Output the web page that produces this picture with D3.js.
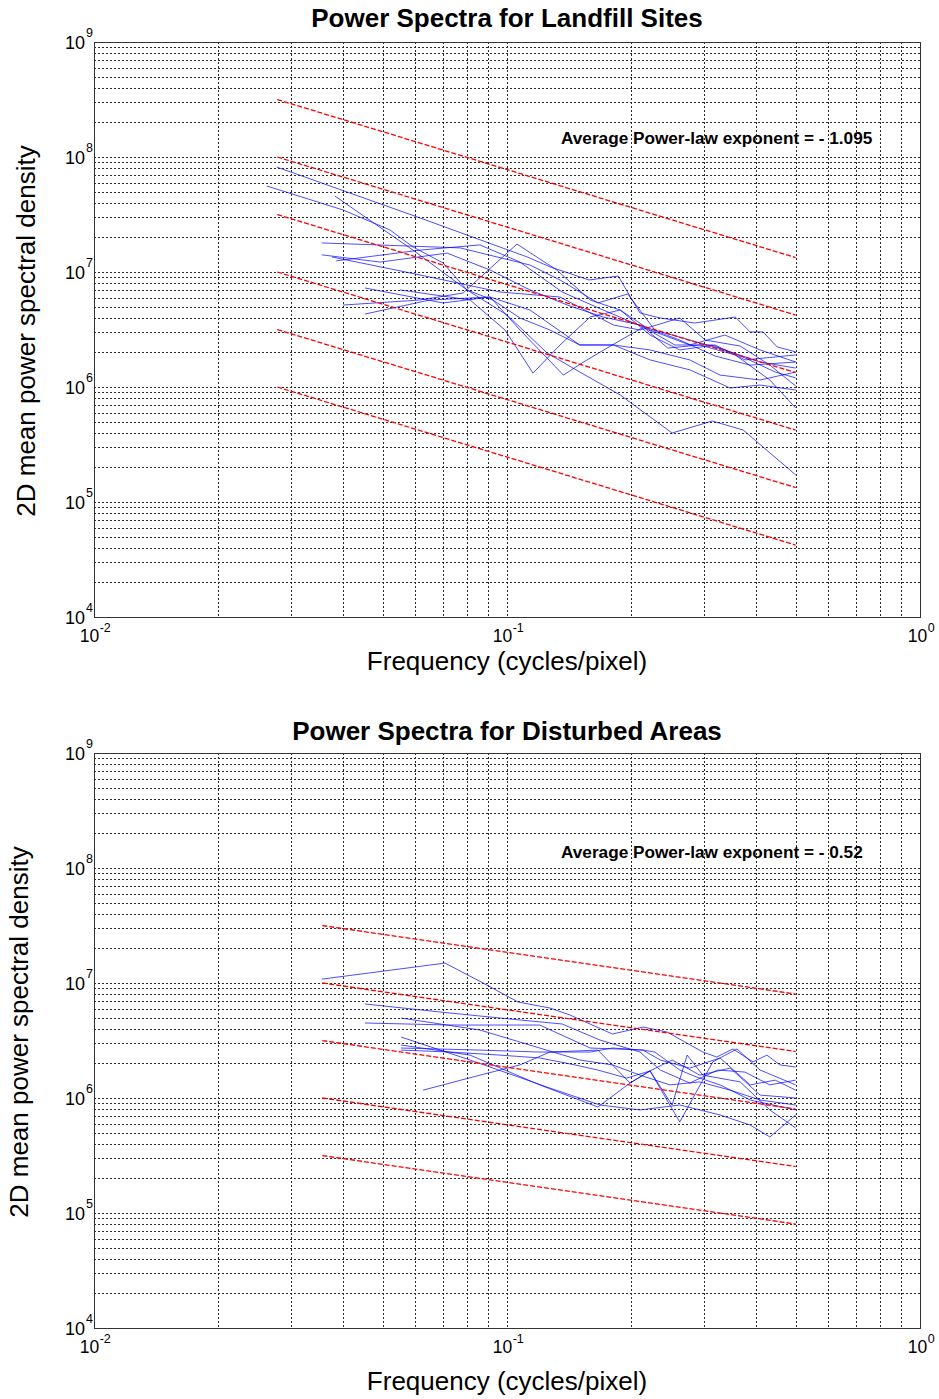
<!DOCTYPE html>
<html>
<head>
<meta charset="utf-8">
<script src="https://cdn.jsdelivr.net/npm/d3@7"></script>
<style>
  body { margin: 0; background: #fff; }
  svg { display: block; }
  text { font-family: "Liberation Sans", Arial, Helvetica, sans-serif; fill: #000; }
</style>
</head>
<body>
<svg id="chart" width="939" height="1399"></svg>
<script>
// ---- axis settings ----
const freqDomain = [0.01, 1];
const psdDomain = [1e4, 1e9];
const xTickExps = ["-2", "-1", "0"];
const xTickVals = [0.01, 0.1, 1];
const yTickExps = ["4", "5", "6", "7", "8", "9"];
const yTickVals = [1e4, 1e5, 1e6, 1e7, 1e8, 1e9];

// ---- landfill sites: radially averaged spectra, one row per site ----
const landfillFreq = [
  [0.0277, 0.0616, 0.112, 0.127, 0.158, 0.186, 0.199, 0.210, 0.235, 0.285, 0.357, 0.388, 0.417, 0.451, 0.5],
  [0.0262, 0.0401, 0.0521, 0.0592, 0.0700, 0.0800, 0.0925, 0.1075, 0.127, 0.150, 0.181, 0.222, 0.277, 0.328, 0.410, 0.5],
  [0.0383, 0.0592, 0.0800, 0.1000, 0.125, 0.150, 0.188, 0.251, 0.314, 0.373, 0.5],
  [0.0356, 0.0770, 0.1137, 0.1344, 0.166, 0.196, 0.228, 0.277, 0.337, 0.410, 0.5],
  [0.0356, 0.0493, 0.0716, 0.0910, 0.1137, 0.142, 0.171, 0.210, 0.262, 0.319, 0.388, 0.5],
  [0.0386, 0.0616, 0.0860, 0.1075, 0.136, 0.171, 0.214, 0.255, 0.314, 0.377, 0.446, 0.5],
  [0.0377, 0.0616, 0.0962, 0.1344, 0.181, 0.210, 0.262, 0.302, 0.367, 0.433, 0.5],
  [0.0453, 0.0700, 0.0910, 0.1137, 0.150, 0.181, 0.222, 0.277, 0.347, 0.410, 0.5],
  [0.0453, 0.0651, 0.0910, 0.1075, 0.137, 0.152, 0.178, 0.214, 0.245, 0.293, 0.357, 0.433, 0.5],
  [0.0401, 0.0616, 0.0783, 0.1057, 0.132, 0.159, 0.188, 0.222, 0.262, 0.319, 0.377, 0.5],
  [0.0551, 0.0814, 0.0989, 0.1156, 0.1344, 0.159, 0.188, 0.222, 0.277, 0.337, 0.410, 0.5]
];
const landfillPsd = [
  [8.18e7, 2.95e7, 1.35e7, 1.11e7, 8.52e6, 9.23e6, 6.06e6, 4.40e6, 3.98e6, 3.60e6, 4.06e6, 3.01e6, 3.01e6, 2.23e6, 2.02e6],
  [5.60e7, 3.46e7, 2.32e7, 1.65e7, 1.20e7, 6.98e6, 5.71e6, 3.98e6, 3.13e6, 2.32e6, 2.32e6, 2.10e6, 1.72e6, 1.27e6, 1.15e6, 1.35e6],
  [4.58e7, 1.55e7, 6.98e6, 4.23e6, 1.98e6, 1.35e6, 8.52e5, 3.98e5, 5.06e5, 4.23e5, 1.72e5],
  [1.79e7, 1.62e7, 1.15e7, 8.52e6, 5.38e6, 6.44e6, 3.13e6, 2.56e6, 2.10e6, 1.65e6, 1.46e6],
  [1.41e7, 1.22e7, 1.46e7, 1.04e7, 6.98e6, 5.06e6, 4.06e6, 3.46e6, 2.56e6, 1.86e6, 1.55e6, 1.65e6],
  [1.25e7, 1.55e7, 1.72e7, 1.22e7, 6.70e6, 4.67e6, 3.32e6, 2.32e6, 2.32e6, 1.79e6, 1.35e6, 1.20e6],
  [1.35e7, 9.42e6, 6.70e6, 6.06e6, 3.46e6, 3.13e6, 3.98e6, 2.56e6, 2.27e6, 1.55e6, 1.02e6],
  [7.26e6, 5.38e6, 6.06e6, 4.67e6, 2.32e6, 2.32e6, 1.72e6, 1.41e6, 9.80e5, 1.04e6, 9.42e5],
  [4.31e6, 5.71e6, 6.06e6, 3.13e6, 1.27e6, 1.62e6, 2.27e6, 3.32e6, 2.18e6, 2.32e6, 1.90e6, 1.15e6, 6.57e5],
  [5.16e6, 5.71e6, 6.57e6, 1.75e7, 1.04e7, 5.71e6, 4.67e6, 2.83e6, 2.10e6, 2.32e6, 1.72e6, 1.90e6],
  [6.98e6, 5.71e6, 3.13e6, 1.32e6, 2.32e6, 4.06e6, 4.67e6, 3.13e6, 2.32e6, 2.83e6, 2.10e6, 1.65e6]
];
const landfillExponent = -1.095;
const landfillFitRange = [1 / 36, 0.5];
const landfillFitLevels = [3.16e8, 1e8, 3.16e7, 1e7, 3.16e6, 1e6];

// ---- disturbed areas ----
const disturbedFreq = [
  [0.0356, 0.0708, 0.0875, 0.1063, 0.127, 0.142, 0.180, 0.2135, 0.244, 0.298, 0.322, 0.3525, 0.394, 0.426, 0.458, 0.5],
  [0.0453, 0.0728, 0.1075, 0.136, 0.168, 0.210, 0.235, 0.277, 0.324, 0.377, 0.433, 0.5],
  [0.0453, 0.0728, 0.120, 0.159, 0.183, 0.2135, 0.235, 0.277, 0.328, 0.388, 0.446, 0.5],
  [0.0554, 0.0860, 0.120, 0.150, 0.180, 0.210, 0.248, 0.293, 0.347, 0.410, 0.5],
  [0.0554, 0.0814, 0.127, 0.168, 0.210, 0.262, 0.328, 0.388, 0.433, 0.5],
  [0.0554, 0.0860, 0.120, 0.159, 0.180, 0.2135, 0.228, 0.262, 0.288, 0.328, 0.388, 0.5],
  [0.0554, 0.0728, 0.0962, 0.120, 0.146, 0.166, 0.195, 0.222, 0.251, 0.293, 0.347, 0.410, 0.5],
  [0.0626, 0.0860, 0.1075, 0.127, 0.166, 0.1986, 0.222, 0.251, 0.273, 0.298, 0.367, 0.433, 0.5],
  [0.0554, 0.0814, 0.120, 0.166, 0.1986, 0.222, 0.262, 0.315, 0.3605, 0.410, 0.5]
];
const disturbedPsd = [
  [1.08e7, 1.49e7, 1.00e7, 6.84e6, 6.06e6, 5.27e6, 3.60e6, 4.14e6, 3.75e6, 2.51e6, 2.27e6, 2.67e6, 2.06e6, 2.36e6, 1.94e6, 1.86e6],
  [6.57e6, 5.48e6, 4.77e6, 4.40e6, 3.19e6, 2.51e6, 1.75e6, 1.35e6, 1.75e6, 1.68e6, 1.30e6, 1.43e6],
  [4.49e6, 4.31e6, 4.31e6, 2.72e6, 2.67e6, 2.61e6, 2.14e6, 1.82e6, 2.23e6, 1.30e6, 1.43e6, 1.17e6],
  [4.96e6, 3.90e6, 2.72e6, 2.14e6, 1.94e6, 1.58e6, 1.30e6, 1.38e6, 1.17e6, 9.61e5, 8.69e5],
  [3.39e6, 2.14e6, 1.22e6, 8.69e5, 7.87e5, 8.69e5, 7.12e5, 5.82e5, 4.58e5, 7.12e5],
  [2.72e6, 2.61e6, 2.51e6, 2.51e6, 2.72e6, 2.61e6, 2.51e6, 1.75e6, 1.52e6, 1.30e6, 9.61e5, 7.87e5],
  [2.61e6, 2.51e6, 2.36e6, 2.23e6, 1.94e6, 1.75e6, 1.49e6, 1.72e6, 2.14e6, 1.58e6, 1.82e6, 1.06e6, 1.00e6],
  [1.17e6, 1.58e6, 1.94e6, 2.51e6, 2.61e6, 1.35e6, 1.72e6, 8.69e5, 2.36e6, 1.58e6, 1.38e6, 7.87e5, 5.48e5],
  [2.89e6, 2.36e6, 1.30e6, 8.35e5, 1.35e6, 1.72e6, 6.18e5, 2.06e6, 2.67e6, 1.75e6, 1.30e6]
];
const disturbedExponent = -0.52;
const disturbedFitRange = [1 / 28, 0.5];
const disturbedFitLevels = [3.16e7, 1e7, 3.16e6, 1e6, 3.16e5];

const panels = [
  {
    title: "Power Spectra for Landfill Sites",
    freq: landfillFreq, psd: landfillPsd,
    exponent: landfillExponent, fitRange: landfillFitRange, fitLevels: landfillFitLevels,
    note: "Average Power-law exponent = - 1.095",
    top: 42, bottom: 617, titleY: 27, xLabelY: 670, yLabelX: 35, yLabelY: 331, noteY: 144
  },
  {
    title: "Power Spectra for Disturbed Areas",
    freq: disturbedFreq, psd: disturbedPsd,
    exponent: disturbedExponent, fitRange: disturbedFitRange, fitLevels: disturbedFitLevels,
    note: "Average Power-law exponent = - 0.52",
    top: 753, bottom: 1328, titleY: 740, xLabelY: 1390, yLabelX: 28, yLabelY: 1032, noteY: 858
  }
];

const svg = d3.select("#chart");
const left = 94, right = 920;

// 1..9 times each power of ten inside the domain, skipping the lower edge
function decadeSteps(domain) {
  const out = [];
  const d0 = Math.round(Math.log10(domain[0])), d1 = Math.round(Math.log10(domain[1]));
  for (let d = d0; d < d1; d++) {
    for (let k = 1; k <= 9; k++) {
      const v = k * Math.pow(10, d);
      if (v > domain[0] * 1.0001) out.push(v);
    }
  }
  return out;
}

panels.forEach(p => {
  const x = d3.scaleLog().domain(freqDomain).range([left, right]);
  const y = d3.scaleLog().domain(psdDomain).range([p.bottom, p.top]);
  const g = svg.append("g");

  // dotted grid, major and minor decades alike
  const grid = g.append("g")
    .attr("stroke", "#2a2a2a").attr("stroke-width", 1)
    .attr("stroke-dasharray", "2,2").attr("shape-rendering", "crispEdges");
  decadeSteps(freqDomain).forEach(v => {
    const px = Math.round(x(v)) + 0.5;
    grid.append("line").attr("x1", px).attr("x2", px).attr("y1", p.top).attr("y2", p.bottom);
  });
  decadeSteps(psdDomain).forEach(v => {
    const py = Math.round(y(v)) + 0.5;
    grid.append("line").attr("x1", left).attr("x2", right).attr("y1", py).attr("y2", py);
  });

  // measured spectra
  const line = d3.line().x(d => x(d[0])).y(d => y(d[1]));
  p.freq.forEach((fs, i) => {
    const pts = fs.map((f, j) => [f, p.psd[i][j]]);
    g.append("path").attr("d", line(pts))
      .attr("fill", "none").attr("stroke", "#0000ff")
      .attr("stroke-width", 0.9).attr("stroke-opacity", 0.78)
      .attr("stroke-linejoin", "round");
  });

  // power-law reference lines at the average exponent
  p.fitLevels.forEach(v0 => {
    const f0 = p.fitRange[0], f1 = p.fitRange[1];
    const v1 = v0 * Math.pow(f1 / f0, p.exponent);
    g.append("path").attr("d", line([[f0, v0], [f1, v1]]))
      .attr("fill", "none").attr("stroke", "#ff0000")
      .attr("stroke-width", 1.3).attr("stroke-dasharray", "5,2");
  });

  // frame
  g.append("rect").attr("x", left + 0.5).attr("y", p.top + 0.5)
    .attr("width", right - left).attr("height", p.bottom - p.top)
    .attr("fill", "none").attr("stroke", "#333").attr("stroke-width", 1)
    .attr("shape-rendering", "crispEdges");

  // x tick labels: 10 with superscript exponent, centred on the tick
  xTickVals.forEach((v, i) => {
    const tg = g.append("g");
    const base = tg.append("text").attr("y", p.bottom + 25).attr("font-size", 17.5).text("10");
    const sup = tg.append("text").attr("y", p.bottom + 14.5).attr("font-size", 12.5).text(xTickExps[i]);
    const wb = base.node().getComputedTextLength();
    const ws = sup.node().getComputedTextLength();
    const x0 = x(v) - (wb + ws) / 2 + 1;
    base.attr("x", x0);
    sup.attr("x", x0 + wb + 0.5);
  });

  // y tick labels
  yTickVals.forEach((v, i) => {
    g.append("text").attr("x", 85).attr("y", y(v) + 6.5)
      .attr("text-anchor", "end").attr("font-size", 18).text("10");
    g.append("text").attr("x", 86).attr("y", y(v) - 5)
      .attr("font-size", 12.5).text(yTickExps[i]);
  });

  // titles and labels
  g.append("text").attr("x", 507).attr("y", p.titleY)
    .attr("text-anchor", "middle").attr("font-size", 26).attr("font-weight", "bold")
    .text(p.title);
  g.append("text").attr("x", 507).attr("y", p.xLabelY)
    .attr("text-anchor", "middle").attr("font-size", 26)
    .text("Frequency (cycles/pixel)");
  g.append("text")
    .attr("transform", `translate(${p.yLabelX},${p.yLabelY}) rotate(-90)`)
    .attr("text-anchor", "middle").attr("font-size", 26)
    .text("2D mean power spectral density");
  g.append("text").attr("x", 561).attr("y", p.noteY)
    .attr("font-size", 17.2).attr("font-weight", "bold")
    .text(p.note);
});
</script>
</body>
</html>
